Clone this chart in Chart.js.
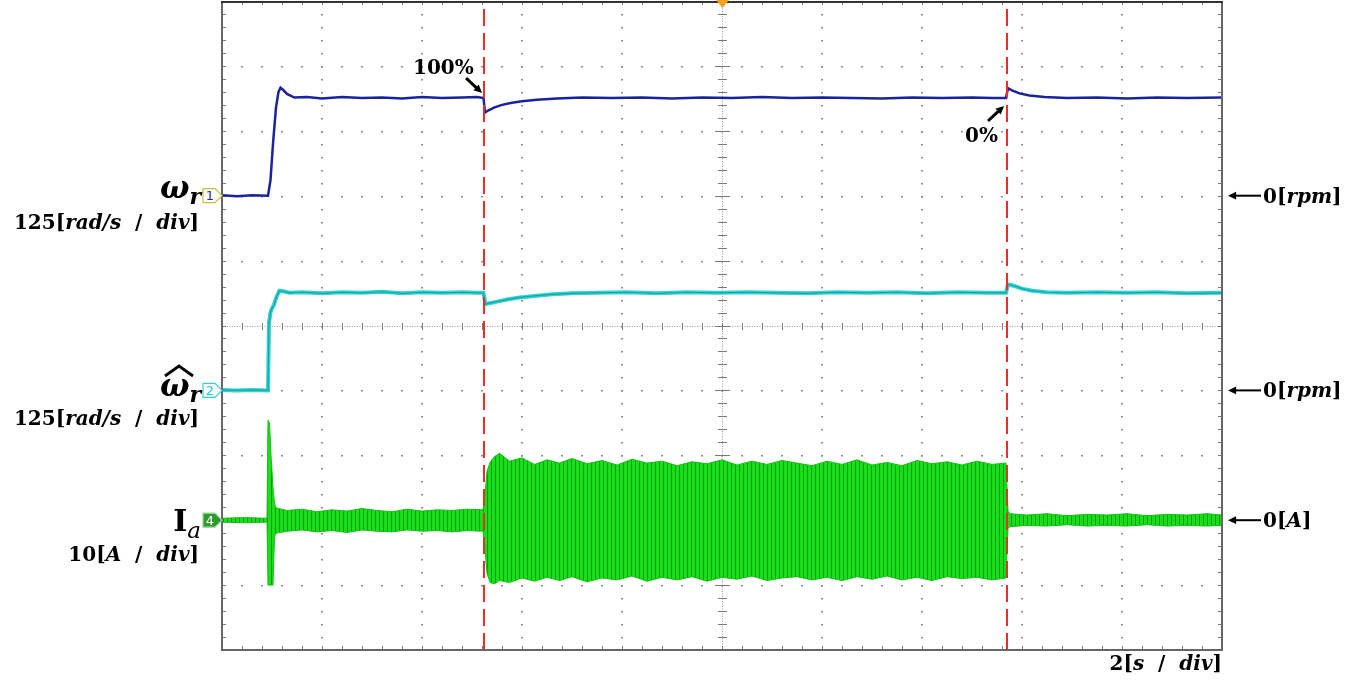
<!DOCTYPE html>
<html>
<head>
<meta charset="utf-8">
<script src="https://cdn.jsdelivr.net/npm/chart.js@4.4.1/dist/chart.umd.min.js"></script>
<style>
html, body { margin: 0; padding: 0; background: #fff; }
#wrap { width: 1356px; height: 680px; }
</style>
</head>
<body>
<div id="wrap"><canvas id="scope" width="1356" height="680"></canvas></div>
<script>
// ---- data read off the scope capture ----
// time in seconds (2 s/div, 10 div)
const wrTime = [0, 0.3, 0.6, 0.92, 0.97, 1.02, 1.08, 1.13, 1.17, 1.22, 1.3, 1.45, 1.7,
  2.0, 2.4, 2.8, 3.2, 3.6, 4.0, 4.4, 4.8, 5.1, 5.23,
  5.26, 5.32, 5.45, 5.6, 5.8, 6.0, 6.3, 6.7, 7.2, 7.8,
  8.4, 9.0, 9.6, 10.2, 10.8, 11.4, 12.0, 12.6, 13.2, 13.8,
  14.4, 15.0, 15.4, 15.68, 15.72, 15.8, 15.95, 16.15, 16.45, 16.9,
  17.5, 18.1, 18.7, 19.3, 20];
// rotor speed, rad/s
const wrVal = [1, -1, 1, 0, 30, 100, 170, 200, 208, 204, 196, 189, 190,
  187, 190, 188, 189, 187, 190, 188, 189, 190, 188,
  160, 164, 170, 175, 179, 182, 185, 187, 189, 188,
  189, 187, 189, 188, 190, 188, 189, 188, 187, 189,
  188, 189, 188, 188, 207, 203, 197, 193, 190, 188,
  189, 187, 189, 188, 189];

const whTime = [0, 0.3, 0.6, 0.92, 0.94, 0.97, 1.0, 1.04, 1.09, 1.15,
  1.22, 1.35, 1.6, 2.0, 2.4, 2.8, 3.2, 3.6, 4.0, 4.4,
  4.8, 5.1, 5.23, 5.27, 5.35, 5.5, 5.7, 5.95, 6.25, 6.6,
  7.0, 7.5, 8.1, 8.7, 9.3, 9.9, 10.5, 11.1, 11.7, 12.3,
  12.9, 13.5, 14.1, 14.7, 15.3, 15.68, 15.72, 15.85, 16.0, 16.2,
  16.5, 16.9, 17.5, 18.1, 18.7, 19.3, 20];
// estimated speed, rad/s
const whVal = [1, 0, 1, 0, 130, 150, 158, 165, 180, 192,
  191, 188, 189, 187, 189, 188, 190, 187, 189, 188,
  189, 188, 188, 166, 168, 171, 175, 179, 182, 185,
  187, 188, 189, 187, 189, 188, 189, 188, 187, 189,
  188, 189, 187, 189, 188, 188, 204, 201, 196, 192,
  189, 188, 189, 188, 189, 187, 188];

// phase current envelope, A
const iaTime = [0, 0.45, 0.9, 0.92, 0.95, 0.98, 1.02, 1.05, 1.08, 1.3,
  1.6, 1.9, 2.2, 2.5, 2.8, 3.1, 3.4, 3.7, 4.0, 4.3,
  4.6, 4.9, 5.22, 5.26, 5.3, 5.36, 5.45, 5.55, 5.75, 6.0,
  6.25, 6.5, 6.75, 7.0, 7.3, 7.6, 7.9, 8.2, 8.5, 8.8,
  9.1, 9.4, 9.7, 10.0, 10.3, 10.6, 10.9, 11.2, 11.5, 11.8,
  12.1, 12.4, 12.7, 13.0, 13.3, 13.6, 13.9, 14.2, 14.5, 14.8,
  15.1, 15.4, 15.68, 15.72, 15.76, 16.1, 16.5, 16.9, 17.3, 17.7,
  18.1, 18.5, 18.9, 19.3, 19.7, 20];
const iaUpper = [0.3, 0.4, 0.3, 15.4, 15.0, 10.0, 5.0, 2.6, 1.9, 1.5,
  1.7, 1.3, 1.6, 1.4, 1.8, 1.5, 1.3, 1.7, 1.4, 1.6,
  1.5, 1.7, 1.6, 4.0, 7.5, 8.9, 9.8, 10.3, 9.1, 9.6,
  8.6, 9.3, 8.8, 9.5, 8.7, 9.2, 8.5, 9.4, 8.8, 9.1,
  8.4, 9.0, 8.7, 9.3, 8.5, 9.1, 8.6, 9.2, 8.8, 8.4,
  9.1, 8.6, 9.3, 8.5, 8.9, 8.4, 9.2, 8.7, 9.0, 8.5,
  9.1, 8.6, 8.8, 1.4, 1.0, 0.8, 1.0, 0.7, 0.9, 0.8,
  1.0, 0.7, 0.9, 0.8, 1.0, 0.8];
const iaLower = [-0.3, -0.4, -0.3, -10.0, -10.0, -10.0, -10.0, -2.5, -2.0, -1.7,
  -1.5, -1.8, -1.6, -1.9, -1.5, -1.7, -1.8, -1.5, -1.7, -1.6,
  -1.8, -1.6, -1.7, -4.5, -8.2, -9.6, -9.8, -9.3, -9.6, -8.9,
  -9.4, -8.8, -9.3, -8.7, -9.5, -8.9, -9.2, -8.6, -9.4, -8.8,
  -9.2, -8.7, -9.4, -8.8, -9.1, -8.6, -9.3, -8.9, -8.7, -9.2,
  -8.8, -9.3, -8.7, -9.1, -8.6, -9.2, -8.8, -9.3, -8.7, -9.0,
  -8.8, -9.2, -8.9, -1.2, -1.0, -0.8, -0.9, -0.7, -0.9, -0.8,
  -0.9, -0.7, -0.9, -0.8, -0.9, -0.8];

const loadStepTimes = [5.24, 15.7];
const loadLabels = ['100%', '0%'];

// channel settings: zero level (div) and units per div
const wrZero = 2, wrPerDiv = 125;
const whZero = -1, whPerDiv = 125;
const iaZero = -3, iaPerDiv = 10;
const timePerDiv = 2;

function toPoints(times, vals, zero, perDiv) {
  return times.map((t, i) => ({ x: t, y: zero + vals[i] / perDiv }));
}

const canvas = document.getElementById('scope');
const ctx = canvas.getContext('2d');

// striped green to look like the dense current oscillation
const pc = document.createElement('canvas');
pc.width = 4; pc.height = 1;
const pctx = pc.getContext('2d');
pctx.fillStyle = '#18e018'; pctx.fillRect(0, 0, 4, 1);
pctx.fillStyle = '#0a9c0a'; pctx.fillRect(3, 0, 1, 1);
const greenStripes = ctx.createPattern(pc, 'repeat');

const UP = 'bold 20px "DejaVu Serif"';
const IT = 'italic bold 20px "DejaVu Serif"';
const SL = '  /  ';

function drawRuns(c, parts, x, y, align) {
  let w = 0;
  parts.forEach(p => { c.font = p[1]; w += c.measureText(p[0]).width; });
  let cx = align === 'right' ? x - w : x;
  c.textAlign = 'left';
  parts.forEach(p => {
    c.font = p[1];
    c.fillText(p[0], cx, y + (p[2] || 0));
    cx += c.measureText(p[0]).width;
  });
}

function arrow(c, x1, y1, x2, y2, lw, head) {
  const a = Math.atan2(y2 - y1, x2 - x1);
  c.lineWidth = lw;
  c.beginPath();
  c.moveTo(x1, y1);
  c.lineTo(x2 - Math.cos(a) * head * 0.8, y2 - Math.sin(a) * head * 0.8);
  c.stroke();
  c.beginPath();
  c.moveTo(x2, y2);
  c.lineTo(x2 - head * Math.cos(a - 0.45), y2 - head * Math.sin(a - 0.45));
  c.lineTo(x2 - head * Math.cos(a + 0.45), y2 - head * Math.sin(a + 0.45));
  c.closePath();
  c.fill();
}

function channelTag(c, yPix, label, fill, stroke, textColor) {
  const l = 203, r = 215, tip = 222, h = 7;
  c.beginPath();
  c.moveTo(l, yPix - h); c.lineTo(r, yPix - h); c.lineTo(tip, yPix);
  c.lineTo(r, yPix + h); c.lineTo(l, yPix + h); c.closePath();
  c.fillStyle = fill; c.fill();
  c.lineWidth = 1.2; c.strokeStyle = stroke; c.stroke();
  c.fillStyle = textColor;
  c.font = '13px "DejaVu Sans"';
  c.textAlign = 'center'; c.textBaseline = 'middle';
  c.fillText(label, 210, yPix + 1);
  c.textBaseline = 'alphabetic';
}

const scopeGrid = {
  id: 'scopeGrid',
  beforeDatasetsDraw(chart) {
    const c = chart.ctx, a = chart.chartArea;
    const xs = chart.scales.x, ys = chart.scales.y;
    const X = v => Math.round(xs.getPixelForValue(v));
    const Y = v => Math.round(ys.getPixelForValue(v));
    c.save();
    c.fillStyle = '#8a8a8a';
    // dotted vertical grid
    for (let i = 1; i < 10; i++) {
      if (i === 5) continue;
      const px = X(i * timePerDiv);
      for (let j = 1; j < 50; j++) c.fillRect(px - 1, Y(-5 + j * 0.2), 2, 1.5);
    }
    // dotted horizontal grid
    for (let j = -4; j <= 4; j++) {
      if (j === 0) continue;
      const py = Y(j);
      for (let i = 1; i < 50; i++) c.fillRect(X(i * 0.4) - 1, py, 2, 1.5);
    }
    // center cross
    c.strokeStyle = '#9a9a9a'; c.lineWidth = 1;
    c.setLineDash([1, 1.5]);
    c.beginPath();
    c.moveTo(a.left, Y(0) + 0.5); c.lineTo(a.right, Y(0) + 0.5);
    c.moveTo(X(10) + 0.5, a.top); c.lineTo(X(10) + 0.5, a.bottom);
    c.stroke();
    c.setLineDash([]);
    c.strokeStyle = '#7a7a7a';
    c.beginPath();
    for (let i = 1; i < 50; i++) {
      const px = X(i * 0.4) + 0.5;
      c.moveTo(px, Y(0) - 3); c.lineTo(px, Y(0) + 4);
    }
    for (let j = 1; j < 50; j++) {
      const py = Y(-5 + j * 0.2) + 0.5;
      const len = j % 5 === 0 ? 7 : 4;
      c.moveTo(X(10) - len, py); c.lineTo(X(10) + len + 1, py);
    }
    // ticks along the frame
    for (let i = 1; i < 50; i++) {
      const px = X(i * 0.4) + 0.5;
      c.moveTo(px, a.top); c.lineTo(px, a.top + 4);
      c.moveTo(px, a.bottom); c.lineTo(px, a.bottom - 4);
    }
    for (let j = 1; j < 50; j++) {
      const py = Y(-5 + j * 0.2) + 0.5;
      c.moveTo(a.left, py); c.lineTo(a.left + 4, py);
      c.moveTo(a.right, py); c.lineTo(a.right - 4, py);
    }
    c.stroke();
    c.restore();
  },
  afterDatasetsDraw(chart) {
    const c = chart.ctx, a = chart.chartArea;
    const xs = chart.scales.x, ys = chart.scales.y;
    c.save();
    // frame
    c.lineWidth = 2;
    c.strokeStyle = '#666';
    c.beginPath();
    c.moveTo(a.left, a.top); c.lineTo(a.left, a.bottom + 1);
    c.moveTo(a.left, a.bottom); c.lineTo(a.right + 1, a.bottom);
    c.moveTo(a.right, a.top); c.lineTo(a.right, a.bottom);
    c.stroke();
    c.strokeStyle = '#333';
    c.beginPath();
    c.moveTo(a.left - 1, a.top + 1); c.lineTo(a.right + 1, a.top + 1);
    c.stroke();

    // channel tags
    channelTag(c, ys.getPixelForValue(wrZero), '1', '#ffffff', '#c8bf3a', '#1c2aa8');
    channelTag(c, ys.getPixelForValue(whZero), '2', '#ffffff', '#30d0d8', '#20c8d0');
    channelTag(c, ys.getPixelForValue(iaZero), '4', '#2f9a2f', '#9ad89a', '#ffffff');

    c.fillStyle = '#000';
    c.strokeStyle = '#000';
    const W = 'italic bold 31px "DejaVu Serif"';
    const S = 'italic bold 22px "DejaVu Serif"';
    // omega_r
    drawRuns(c, [['ω', W], ['r', S, 6]], 201, 198, 'right');
    drawRuns(c, [['125', UP], ['[', UP], ['rad/s', IT], [SL, UP], ['div', IT], [']', UP]], 199, 229, 'right');
    // omega_r hat
    drawRuns(c, [['ω', W], ['r', S, 6]], 201, 396, 'right');
    c.lineWidth = 2.8;
    c.lineJoin = 'miter';
    c.beginPath();
    c.moveTo(165, 376); c.lineTo(179, 366); c.lineTo(193, 376);
    c.stroke();
    drawRuns(c, [['125', UP], ['[', UP], ['rad/s', IT], [SL, UP], ['div', IT], [']', UP]], 199, 425, 'right');
    // I_a
    drawRuns(c, [['I', 'bold 30px "DejaVu Serif"'], ['a', 'italic 23px "DejaVu Serif"', 7]], 201, 531, 'right');
    drawRuns(c, [['10', UP], ['[', UP], ['A', IT], [SL, UP], ['div', IT], [']', UP]], 199, 561, 'right');

    // zero references on the right
    const refs = [[wrZero, 'rpm'], [whZero, 'rpm'], [iaZero, 'A']];
    refs.forEach(r => {
      const py = ys.getPixelForValue(r[0]);
      arrow(c, 1261, py, 1228, py, 2, 9);
      drawRuns(c, [['0', UP], ['[', UP], [r[1], IT], [']', UP]], 1263, py + 7, 'left');
    });

    // time base
    drawRuns(c, [['2', UP], ['[', UP], ['s', IT], [SL, UP], ['div', IT], [']', UP]], 1222, 670, 'right');

    // load step notes
    const p1 = xs.getPixelForValue(loadStepTimes[0]);
    c.font = UP; c.textAlign = 'left';
    c.fillText(loadLabels[0], p1 - 71, 74);
    arrow(c, p1 - 18, 78, p1 - 2, 93, 3, 9);
    const p2 = xs.getPixelForValue(loadStepTimes[1]);
    c.fillText(loadLabels[1], p2 - 42, 142);
    arrow(c, p2 - 19, 121, p2 - 3, 106, 3, 9);
    c.restore();
  },
  afterDraw(chart) {
    // trigger position marker on the top edge
    const c = chart.ctx;
    const tx = Math.round(chart.scales.x.getPixelForValue(10));
    c.save();
    c.fillStyle = '#f5a020';
    c.beginPath();
    c.moveTo(tx - 6, 0); c.lineTo(tx + 7, 0); c.lineTo(tx + 0.5, 8); c.closePath();
    c.fill();
    c.restore();
  }
};

const stepLines = loadStepTimes.map(t => ({
  data: [{ x: t, y: -5 }, { x: t, y: 5 }],
  borderColor: '#e8302a',
  borderWidth: 2,
  borderDash: [17, 7],
  pointRadius: 0,
  fill: false,
  order: 0
}));

new Chart(ctx, {
  type: 'line',
  data: {
    datasets: [
      ...stepLines,
      {
        label: 'wr',
        data: toPoints(wrTime, wrVal, wrZero, wrPerDiv),
        borderColor: '#1b22a0',
        borderWidth: 2.5,
        pointRadius: 0,
        fill: false,
        order: 1
      },
      {
        label: 'wr_hat core',
        data: toPoints(whTime, whVal, whZero, whPerDiv),
        borderColor: '#1aa3a3',
        borderWidth: 1.2,
        pointRadius: 0,
        fill: false,
        order: 2
      },
      {
        label: 'wr_hat',
        data: toPoints(whTime, whVal, whZero, whPerDiv),
        borderColor: '#30d4d4',
        borderWidth: 4,
        pointRadius: 0,
        fill: false,
        order: 3
      },
      {
        label: 'Ia upper',
        data: toPoints(iaTime, iaUpper, iaZero, iaPerDiv),
        borderColor: '#14c014',
        borderWidth: 1,
        pointRadius: 0,
        fill: false,
        order: 4
      },
      {
        label: 'Ia lower',
        data: toPoints(iaTime, iaLower, iaZero, iaPerDiv),
        borderColor: '#14c014',
        borderWidth: 1,
        pointRadius: 0,
        backgroundColor: greenStripes,
        fill: '-1',
        order: 4
      }
    ]
  },
  options: {
    responsive: false,
    animation: false,
    layout: { padding: { left: 222, right: 134, top: 1, bottom: 30 } },
    plugins: {
      legend: { display: false },
      tooltip: { enabled: false }
    },
    scales: {
      x: { type: 'linear', min: 0, max: 10 * timePerDiv, display: false },
      y: { type: 'linear', min: -5, max: 5, display: false }
    }
  },
  plugins: [scopeGrid]
});
</script>
</body>
</html>
